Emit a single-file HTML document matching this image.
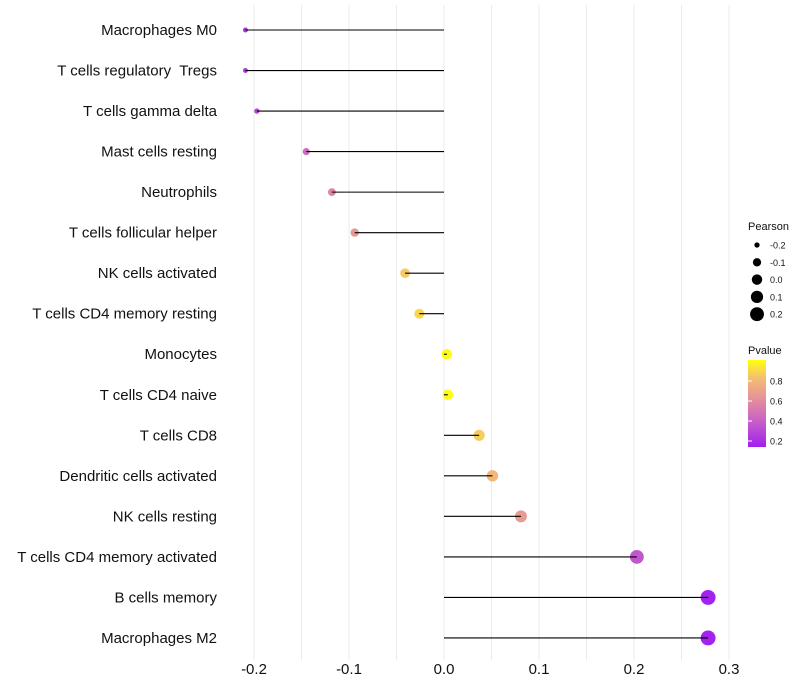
<!DOCTYPE html>
<html><head><meta charset="utf-8"><style>
body{margin:0;background:#fff;font-family:"Liberation Sans",sans-serif}
text{white-space:pre}
</style></head><body>
<svg id="c" width="800" height="700" style="display:block">
<defs><linearGradient id="pg" x1="0" y1="1" x2="0" y2="0">
<stop offset="0" stop-color="#a020f0"/><stop offset="0.3" stop-color="#c860c8"/><stop offset="0.55" stop-color="#e4909c"/><stop offset="0.8" stop-color="#f4c070"/><stop offset="1" stop-color="#ffff10"/></linearGradient></defs>
</svg>
<script>
const categories=["Macrophages M0","T cells regulatory  Tregs","T cells gamma delta","Mast cells resting","Neutrophils","T cells follicular helper","NK cells activated","T cells CD4 memory resting","Monocytes","T cells CD4 naive","T cells CD8","Dendritic cells activated","NK cells resting","T cells CD4 memory activated","B cells memory","Macrophages M2"];
const pearson=[-0.209,-0.209,-0.197,-0.145,-0.118,-0.094,-0.041,-0.026,0.003,0.004,0.037,0.051,0.081,0.203,0.278,0.278];
const pvalue=[0.22,0.24,0.3,0.45,0.56,0.66,0.86,0.9,1.0,1.0,0.87,0.8,0.67,0.36,0.15,0.15];
const xTicks=[-0.2,-0.1,0,0.1,0.2,0.3];
const xGrid=[-0.2,-0.15,-0.1,-0.05,0,0.05,0.1,0.15,0.2,0.25,0.3];
const sizeLegend=[-0.2,-0.1,0,0.1,0.2];
const pLegend=[0.8,0.6,0.4,0.2];
const NS="http://www.w3.org/2000/svg",svg=document.getElementById('c');
const x=v=>444+950*v, y=i=>30+i*40.53;
const rS=v=>Math.sqrt(6+((v+0.21)/0.49)*(56-6));
const stops=[[0,[160,32,240]],[0.3,[200,96,200]],[0.55,[228,144,156]],[0.8,[244,192,112]],[1,[255,255,16]]];
const pmin=0.14,pmax=1.01;
function col(p){let t=Math.max(0,Math.min(1,(p-pmin)/(pmax-pmin)));for(let k=1;k<stops.length;k++){if(t<=stops[k][0]){const a=stops[k-1],b=stops[k],f=(t-a[0])/(b[0]-a[0]);return 'rgb('+a[1].map((c,j)=>Math.round(c+(b[1][j]-c)*f)).join(',')+')';}}return 'rgb(255,255,16)';}
function el(t,a,txt){const e=document.createElementNS(NS,t);for(const k in a)e.setAttribute(k,a[k]);if(txt!=null)e.textContent=txt;svg.appendChild(e);return e;}
xGrid.forEach(v=>{const e=el('line',{x1:x(v),x2:x(v),y1:5,y2:660,stroke:'#ebebeb','stroke-width':1});

});
xTicks.forEach(v=>{const e=el('text',{x:x(v),y:674,'text-anchor':'middle','font-size':15,fill:'#111'},v===0?'0.0':v.toFixed(1));

});
categories.forEach((c,i)=>{
const t=el('text',{x:217,y:y(i)+5,'text-anchor':'end','font-size':15,fill:'#111'},c);


const p=el('circle',{cx:x(pearson[i]),cy:y(i),r:rS(pearson[i]),fill:col(pvalue[i])});


const l=el('line',{x1:x(0),x2:x(pearson[i]),y1:y(i),y2:y(i),stroke:'#000','stroke-width':1.1});


});
const lt=el('text',{x:748,y:230,'font-size':11,fill:'#111'},'Pearson');


sizeLegend.forEach((v,k)=>{const cy=245+k*17.3;
const c=el('circle',{cx:757,cy:cy,r:rS(v),fill:'#000'});


const t=el('text',{x:770,y:cy+3.5,'font-size':9,fill:'#111'},v===0?'0.0':v.toFixed(1));

});
const pt=el('text',{x:748,y:354,'font-size':11,fill:'#111'},'Pvalue');


const bar=el('rect',{x:748,y:360,width:18,height:87,fill:'url(#pg)'});


pLegend.forEach(v=>{const yy=447-(v-pmin)/(pmax-pmin)*87;
const tk=el('line',{x1:748,x2:752,y1:yy,y2:yy,stroke:'#fff','stroke-width':1});


const t=el('text',{x:770,y:yy+3.5,'font-size':9,fill:'#111'},v.toFixed(1));

});
</script>
</body></html>
